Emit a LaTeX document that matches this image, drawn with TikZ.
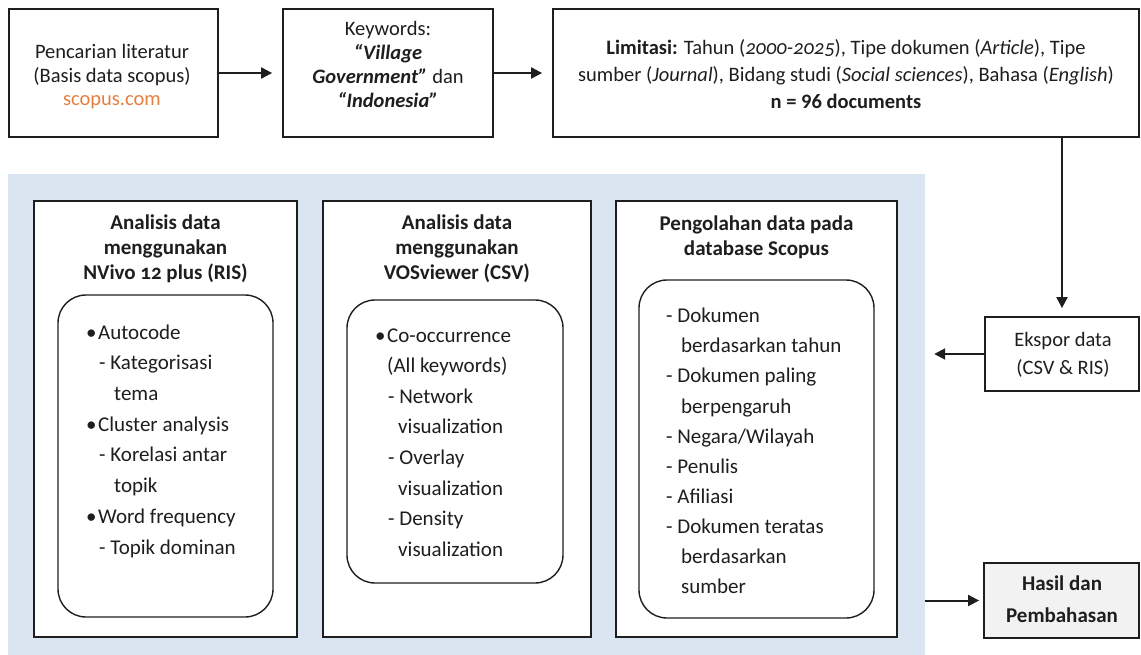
\documentclass[tikz,border=0pt]{standalone}
\usepackage{fontspec}
\setmainfont{Carlito}
\usetikzlibrary{arrows.meta}
\definecolor{bluebg}{HTML}{DBE5F1}
\definecolor{ink}{HTML}{1E1E1E}
\definecolor{orng}{HTML}{E5803F}
\definecolor{hasilfill}{HTML}{F2F2F2}
\newcommand{\onum}[1]{{\addfontfeatures{Numbers=OldStyle}#1}}
\begin{document}
\begin{tikzpicture}[x=1pt,y=-1pt,
  box/.style={draw=ink, line width=1.8pt, fill=white, inner sep=0pt},
  rbox/.style={draw=ink, line width=1.4pt, rounded corners=28pt, inner sep=0pt},
  txt/.style={text=ink, inner sep=0pt, align=center},
  ltxt/.style={text=ink, inner sep=0pt, align=left, anchor=west},
  arr/.style={draw=ink, line width=2pt, -{Triangle[length=11pt,width=11pt]}},
  topf/.style={font=\fontsize{20.5}{#1}\selectfont},
  panf/.style={font=\fontsize{21}{#1}\selectfont}
]
\useasboundingbox (0,0) rectangle (1141,655);

% background panel
\node[fill=bluebg, inner sep=0pt, minimum width=917pt, minimum height=481pt] (bg) at (466.5,414.5) {};

% top row boxes
\node[box, minimum width=209pt, minimum height=128pt] (b1) at (113.5,73) {};
\node[box, minimum width=210pt, minimum height=128pt] (b2) at (388,73) {};
\node[box, minimum width=586pt, minimum height=128pt] (b3) at (846,73) {};
\node[txt, topf=23.5] (t1) at (112,77) {Pencarian literatur\\(Basis data scopus)\\\textcolor{orng}{scopus.com}};
\node[txt, topf=24] (t2) at (388,64.5) {Keywords:\\\textbf{\textit{“Village}}\\\textbf{\textit{Government”}} dan\\\textbf{\textit{“Indonesia”}}};
\node[txt, topf=27] (t3) at (846,74.5) {\textbf{Limitasi:} Tahun (\textit{\onum{2000-2025}}), Tipe dokumen (\textit{Article}), Tipe\\sumber (\textit{Journal}), Bidang studi (\textit{Social sciences}), Bahasa (\textit{English})\\\textbf{n = 96 documents}};

% right column boxes
\node[box, minimum width=154pt, minimum height=74pt] (ek) at (1062,354) {};
\node[txt, topf=28] (tek) at (1063,354.5) {Ekspor data\\(CSV \& RIS)};
\node[box, fill=hasilfill, minimum width=155pt, minimum height=75pt] (hs) at (1061.5,600.5) {};
\node[txt, panf=32] (ths) at (1062,599.5) {\textbf{Hasil dan}\\\textbf{Pembahasan}};

% panels
\node[box, minimum width=263pt, minimum height=436pt] (p1) at (165.5,419) {};
\node[box, minimum width=268pt, minimum height=436pt] (p2) at (457,419) {};
\node[box, minimum width=281pt, minimum height=436pt] (p3) at (756.5,419) {};

\node[txt, panf=25] (h1) at (165.5,248.5) {\textbf{Analisis data}\\\textbf{menggunakan}\\\textbf{NVivo \onum{12} plus (RIS)}};
\node[txt, panf=25] (h2) at (457,248.5) {\textbf{Analisis data}\\\textbf{menggunakan}\\\textbf{VOSviewer (CSV)}};
\node[txt, panf=25] (h3) at (756.5,237) {\textbf{Pengolahan data pada}\\\textbf{database Scopus}};

\node[rbox, minimum width=215pt, minimum height=322pt] (r1) at (165.5,456) {};
\node[rbox, minimum width=216pt, minimum height=283pt] (r2) at (455,441.5) {};
\node[rbox, minimum width=235pt, minimum height=338pt] (r3) at (756.5,449) {};

\node[ltxt, panf=30.7] (l1) at (86,441) {\makebox[12pt][l]{•}Autocode\\
\hspace*{13pt}- Kategorisasi\\
\hspace*{28pt}tema\\
\makebox[12pt][l]{•}Cluster analysis\\
\hspace*{13pt}- Korelasi antar\\
\hspace*{28pt}topik\\
\makebox[12pt][l]{•}Word frequency\\
\hspace*{13pt}- Topik dominan};

\node[ltxt, panf=30.6] (l2) at (375,442.5) {\makebox[12pt][l]{•}Co-occurrence\\
\hspace*{12pt}(All keywords)\\
\hspace*{13pt}- Network\\
\hspace*{23pt}visualization\\
\hspace*{13pt}- Overlay\\
\hspace*{23pt}visualization\\
\hspace*{13pt}- Density\\
\hspace*{23pt}visualization};

\node[ltxt, panf=30.1] (l3) at (666,451) {- Dokumen\\
\hspace*{15pt}berdasarkan tahun\\
- Dokumen paling\\
\hspace*{15pt}berpengaruh\\
- Negara/Wilayah\\
- Penulis\\
- Afiliasi\\
- Dokumen teratas\\
\hspace*{15pt}berdasarkan\\
\hspace*{15pt}sumber};

% connectors
\draw[arr, shorten >=10pt] (b1) -- (b2);
\draw[arr, shorten >=10pt] (b2) -- (b3);
\draw[arr, shorten >=8pt] (b3.south -| ek.north) -- (ek.north);
\draw[arr, shorten >=9pt] (ek.west) -- (ek.west -| bg.east);
\draw[arr, shorten >=4pt] (bg.east |- hs.west) -- (hs.west);
\end{tikzpicture}
\end{document}
